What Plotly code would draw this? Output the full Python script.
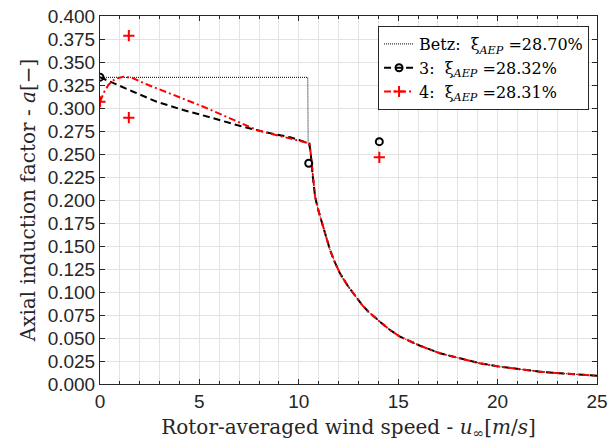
import plotly.graph_objects as go

# Shared above-rated branch (rotor-averaged wind speed [m/s], axial induction [-])
u_above = [10.53, 10.60, 10.70, 10.82, 10.98, 11.23, 11.40, 11.57, 11.80, 12.07, 12.49,
           12.91, 13.20, 13.50, 13.80, 14.08, 14.59, 15.09, 16.10, 17.10, 18.11,
           19.11, 20.12, 21.13, 22.13, 23.14, 24.14, 25.00]
a_above = [0.2616, 0.2508, 0.2260, 0.2036, 0.1890, 0.1710, 0.1570, 0.1457, 0.1330, 0.1203, 0.1058,
           0.0932, 0.0855, 0.0786, 0.0728, 0.0677, 0.0587, 0.0514, 0.0416, 0.0334, 0.0279,
           0.0225, 0.0188, 0.0160, 0.0134, 0.0116, 0.0101, 0.0090]

# Betz optimum below rated
u_betz = [0.0, 10.45, 10.47]
a_betz = [1 / 3, 1 / 3, 0.2620]

# Design 3 below rated
u_d3 = [0.0, 0.67, 1.67, 2.85, 4.19, 5.53, 6.88, 8.21, 9.56]
a_d3 = [0.3335, 0.3268, 0.3177, 0.3068, 0.2978, 0.2899, 0.2815, 0.2742, 0.2682]
u_d3_pts = [0.0, 10.5, 14.05]
a_d3_pts = [0.3335, 0.2399, 0.2634]

# Design 4 below rated
u_d4 = [0.0, 0.20, 0.42, 0.75, 1.17, 1.67, 2.43, 3.69, 5.20, 6.54, 7.88, 9.05]
a_d4 = [0.3068, 0.3170, 0.3250, 0.3315, 0.3340, 0.3323, 0.3250, 0.3141, 0.3014, 0.2888, 0.2761, 0.2696]
u_d4_pts = [0.0, 1.45, 1.45, 14.05]
a_d4_pts = [0.3068, 0.3786, 0.2895, 0.2464]

labels = ["Betz:  ξ<sub><i>AEP</i></sub> =28.70%",
          "3:  ξ<sub><i>AEP</i></sub> =28.32%",
          "4:  ξ<sub><i>AEP</i></sub> =28.31%"]

x_ticks = [0, 5, 10, 15, 20, 25]
y_ticks = [i * 0.025 for i in range(17)]

RED = "#ff0000"
INK = "#262626"
GRID = "#e3e3e3"
SERIF = "DejaVu Serif"

betz_line = dict(color="black", width=1, dash="1px,1px")
d3_line = dict(color="black", width=2, dash="7px,4px")
d4_line = dict(color=RED, width=2, dash="7px,3px,2px,3px")
d3_marker = dict(symbol="circle-open", size=7, color="black", line=dict(width=2, color="black"))
d4_marker = dict(symbol="cross-thin", size=8, color=RED, line=dict(width=2, color=RED))

fig = go.Figure()

fig.add_trace(go.Scatter(x=u_betz + u_above[1:], y=a_betz + a_above[1:], mode="lines",
                         line=betz_line, showlegend=False, hoverinfo="skip"))
fig.add_trace(go.Scatter(x=u_d3 + u_above, y=a_d3 + a_above, mode="lines",
                         line=d3_line, showlegend=False))
fig.add_trace(go.Scatter(x=u_d4 + u_above, y=a_d4 + a_above, mode="lines",
                         line=d4_line, showlegend=False))
fig.add_trace(go.Scatter(x=u_d3_pts, y=a_d3_pts, mode="markers", marker=d3_marker, showlegend=False))
fig.add_trace(go.Scatter(x=u_d4_pts, y=a_d4_pts, mode="markers", marker=d4_marker, showlegend=False))

# Legend entries
fig.add_trace(go.Scatter(x=[None], y=[None], mode="lines", line=betz_line, name=labels[0]))
fig.add_trace(go.Scatter(x=[None], y=[None], mode="lines+markers", line=d3_line,
                         marker=d3_marker, name=labels[1]))
fig.add_trace(go.Scatter(x=[None], y=[None], mode="lines+markers", line=d4_line,
                         marker=d4_marker, name=labels[2]))

axis_common = dict(
    showline=True, linecolor=INK, linewidth=1, mirror="allticks",
    ticks="inside", tickcolor=INK, ticklen=5, automargin=False,
    showgrid=True, gridcolor=GRID, gridwidth=1, zeroline=False,
    tickfont=dict(family="Liberation Sans", size=19, color=INK),
)

fig.update_xaxes(
    **axis_common,
    range=[0, 25], tickvals=x_ticks, ticktext=[str(v) for v in x_ticks],
    minor=dict(dtick=1, tick0=0, ticks="inside", ticklen=3, tickcolor=INK,
               showgrid=True, gridcolor=GRID, gridwidth=1),
    title=dict(text="Rotor-averaged wind speed - <i>u</i><sub>∞</sub>[<i>m</i>/<i>s</i>]",
               font=dict(family=SERIF, size=20, color=INK), standoff=9),
)
fig.update_yaxes(
    **axis_common,
    range=[0, 0.4], tickvals=y_ticks, ticktext=[f"{v:.3f}" for v in y_ticks],
    title=dict(text="Axial induction factor - <i>a</i>[−]",
               font=dict(family=SERIF, size=20, color=INK), standoff=6),
)

fig.update_layout(
    width=610, height=445,
    margin=dict(l=100, r=13, t=16, b=61),
    paper_bgcolor="white", plot_bgcolor="white",
    legend=dict(x=0.984, y=0.9728, xanchor="right", yanchor="top",
                bgcolor="white", bordercolor=INK, borderwidth=1,
                font=dict(family=SERIF, size=16, color="black"),
                itemwidth=30, tracegroupgap=0),
)

fig.write_html("out.html")
